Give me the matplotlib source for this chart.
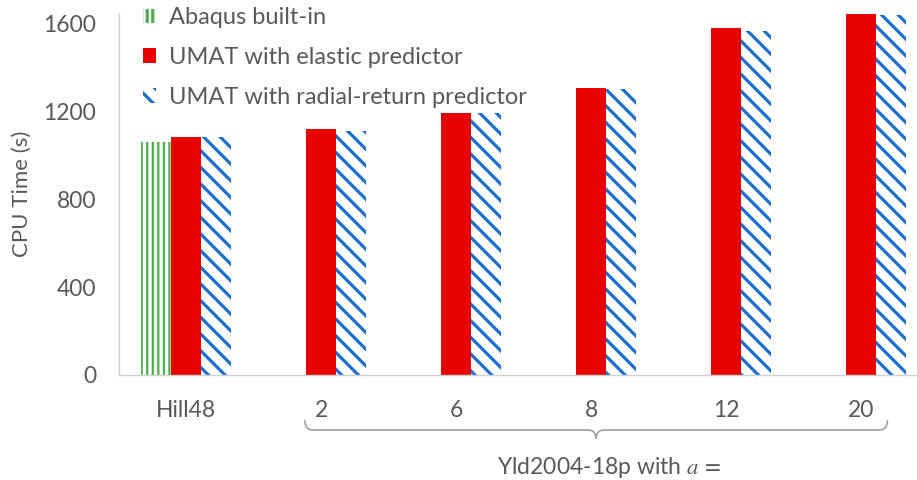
import matplotlib
matplotlib.use("Agg")
import matplotlib.pyplot as plt
import numpy as np
from matplotlib.patches import Patch, PathPatch
from matplotlib.path import Path

# CPU time per model (s)
categories = ['Hill48', '2', '6', '8', '12', '20']
abaqus_builtin = [1060]  # only available for Hill48
umat_elastic = [1084, 1121, 1194, 1310, 1583, 1647]
umat_radial = [1084, 1111, 1192, 1305, 1568, 1643]

GREEN = '#4cad4c'
RED = '#e60000'
BLUE = '#1a6fcf'
GREY = '#595959'
VERT = '|||'
DIAG = chr(92) * 2  # two backslashes

plt.rcParams['font.family'] = ['Lato', 'DejaVu Sans']
plt.rcParams['mathtext.fontset'] = 'stix'

W, H = 917, 480
fig = plt.figure(figsize=(W / 100, H / 100), dpi=100)

# plot area in pixels
left_px, right_px, top_px, base_px = 118.5, 917, 13, 374.7
ax = fig.add_axes([left_px / W, (H - base_px) / H,
                   (right_px - left_px) / W, (base_px - top_px) / H])

slot = 135.0  # px per category
bw = 30 / slot
x = np.arange(len(categories))


def hatch_lw(patches, lw):
    for p in patches:
        if hasattr(p, 'set_hatch_linewidth'):
            p.set_hatch_linewidth(lw)


plt.rcParams['hatch.linewidth'] = 1.6
green_bars = ax.bar(x[:len(abaqus_builtin)] - bw, abaqus_builtin, bw, color='white',
                    edgecolor=GREEN, hatch=VERT, linewidth=0)
hatch_lw(green_bars, 1.6)
ax.bar(x, umat_elastic, bw, color=RED, linewidth=0)
plt.rcParams['hatch.linewidth'] = 2.3
blue_bars = ax.bar(x + bw, umat_radial, bw, color='white', edgecolor=BLUE,
                   hatch=DIAG, linewidth=0)
hatch_lw(blue_bars, 2.3)

ax.set_xlim(-0.5, -0.5 + (right_px - left_px) / slot)
ax.set_ylim(0, 1650)
ax.set_yticks([0, 400, 800, 1200, 1600])
ax.set_xticks(x)
ax.set_xticklabels(categories)
ax.tick_params(axis='both', length=0, labelsize=16.5, colors=GREY)
ax.tick_params(axis='x', pad=18)
ax.tick_params(axis='y', pad=16)
ax.set_ylabel('CPU Time (s)', fontsize=16, color=GREY, labelpad=8)

for s in ['top', 'right']:
    ax.spines[s].set_visible(False)
for s in ['left', 'bottom']:
    ax.spines[s].set_color('#d0d0d0')
    ax.spines[s].set_linewidth(1.0)

h_green = Patch(facecolor='white', edgecolor=GREEN, hatch=VERT, linewidth=0)
h_red = Patch(facecolor=RED, linewidth=0)
h_blue = Patch(facecolor='white', edgecolor=BLUE, hatch=DIAG, linewidth=0)
hatch_lw([h_green], 1.6)
hatch_lw([h_blue], 2.3)
labels = ['Abaqus built-in', 'UMAT with elastic predictor',
          'UMAT with radial-return predictor']
leg = ax.legend([h_green, h_red, h_blue], labels, loc='upper left', frameon=False,
                bbox_to_anchor=(143 / W, 1 - 7 / H), bbox_transform=fig.transFigure,
                fontsize=17, handlelength=0.55, handleheight=0.55,
                handletextpad=0.55, labelspacing=0.8, borderpad=0, borderaxespad=0)
for t in leg.get_texts():
    t.set_color(GREY)

# brace under the Yld2004-18p groups
def px(xp, yp):
    return (xp / W, 1 - yp / H)

xl = ax.transData.transform((x[1] - 0.12, 0))[0]
xr = ax.transData.transform((x[5] + 0.196, 0))[0]
xm = (xl + xr) / 2
yl, yt, yb = 420, 430, 439
r = 8
verts = [px(xl, yl), px(xl, yt), px(xl + r, yt),
         px(xm - r, yt), px(xm, yt), px(xm, yb),
         px(xm, yt), px(xm + r, yt),
         px(xr - r, yt), px(xr, yt), px(xr, yl)]
codes = [Path.MOVETO, Path.CURVE3, Path.CURVE3,
         Path.LINETO, Path.CURVE3, Path.CURVE3,
         Path.CURVE3, Path.CURVE3,
         Path.LINETO, Path.CURVE3, Path.CURVE3]
brace = PathPatch(Path(verts, codes), transform=fig.transFigure,
                  facecolor='none', edgecolor='#a0a0a0', linewidth=1.2)
fig.add_artist(brace)

fig.text(xm / W + 0.014, 1 - 468 / H, r'Yld2004-18p with $a\,=$',
         ha='center', va='center', fontsize=16.5, color=GREY)

fig.savefig('out.png', dpi=100, facecolor='white')
